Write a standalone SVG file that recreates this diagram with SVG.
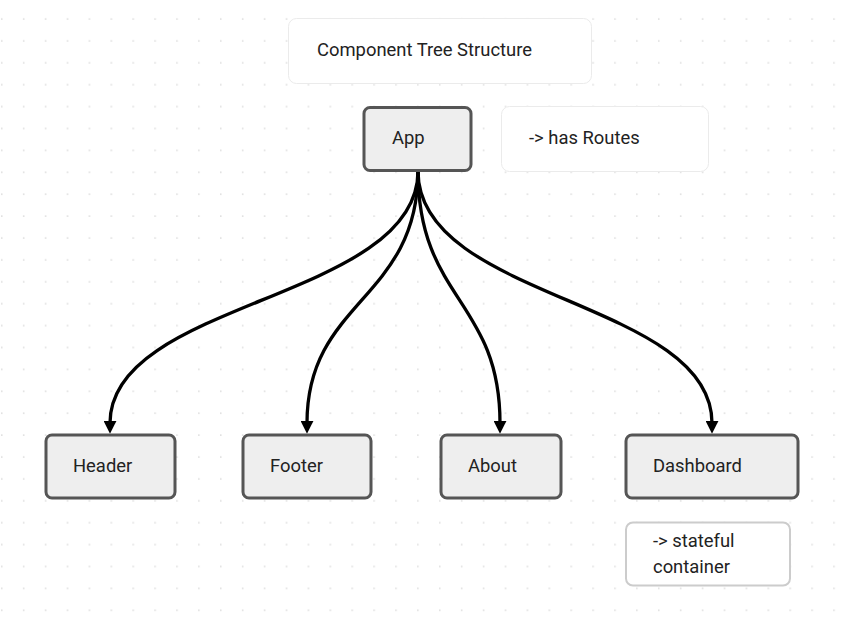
<svg xmlns="http://www.w3.org/2000/svg" width="845" height="618" viewBox="0 0 845 618">
<style>
  .node { fill: #eeeeee; stroke: #555555; stroke-width: 3; }
  .note { fill: #ffffff; stroke: #ebebeb; stroke-width: 1; }
  .note2 { fill: #ffffff; stroke: #cccccc; stroke-width: 2; }
  .lbl { font-family: Roboto, "Liberation Sans", sans-serif; font-size: 18.4px; fill: #222222; }
  .edge { fill: none; stroke: #000000; stroke-width: 3.3; }
</style>
<defs>
  <pattern id="dots" patternUnits="userSpaceOnUse" width="21.9" height="21.9" x="0" y="0">
    <circle cx="1.8" cy="19" r="0.9" fill="#dcdcdc"/>
  </pattern>
  <marker id="arrow" viewBox="0 0 12 12" refX="2" refY="6" markerWidth="13" markerHeight="13" markerUnits="userSpaceOnUse" orient="auto">
    <path d="M0,0 L12,6 L0,12 z" fill="#000000"/>
  </marker>
</defs>
<rect width="845" height="618" fill="#ffffff"/>
<rect width="845" height="618" fill="url(#dots)"/>

<g id="title">
  <rect class="note" x="288.5" y="18.5" width="303" height="65" rx="8"/>
  <text class="lbl" x="317" y="56">Component Tree Structure</text>
</g>

<g id="connectors">
  <path class="edge" d="M418,171 C418,300 110,300 110,423" marker-end="url(#arrow)"/>
  <path class="edge" d="M418,171 C418,300 307,300 307,423" marker-end="url(#arrow)"/>
  <path class="edge" d="M418,171 C418,300 500,300 500,423" marker-end="url(#arrow)"/>
  <path class="edge" d="M418,171 C418,300 712,300 712,423" marker-end="url(#arrow)"/>
</g>

<g id="app">
  <rect class="node" x="364" y="107.5" width="107" height="63" rx="6"/>
  <text class="lbl" x="392" y="144">App</text>
</g>

<g id="note-routes">
  <rect class="note" x="501.5" y="106.5" width="207" height="65" rx="8"/>
  <text class="lbl" x="529" y="144">-&gt; has Routes</text>
</g>

<g id="header">
  <rect class="node" x="46" y="435" width="129" height="63" rx="6"/>
  <text class="lbl" x="73" y="472">Header</text>
</g>

<g id="footer">
  <rect class="node" x="243" y="435" width="128" height="63" rx="6"/>
  <text class="lbl" x="270" y="472">Footer</text>
</g>

<g id="about">
  <rect class="node" x="441" y="435" width="120" height="63" rx="6"/>
  <text class="lbl" x="468" y="472">About</text>
</g>

<g id="dashboard">
  <rect class="node" x="626" y="435" width="172" height="63" rx="6"/>
  <text class="lbl" x="653" y="472">Dashboard</text>
</g>

<g id="note-stateful">
  <rect class="note2" x="626" y="522.5" width="164" height="63" rx="7"/>
  <text class="lbl" x="653" y="547">-&gt; stateful</text>
  <text class="lbl" x="653" y="573">container</text>
</g>
</svg>
